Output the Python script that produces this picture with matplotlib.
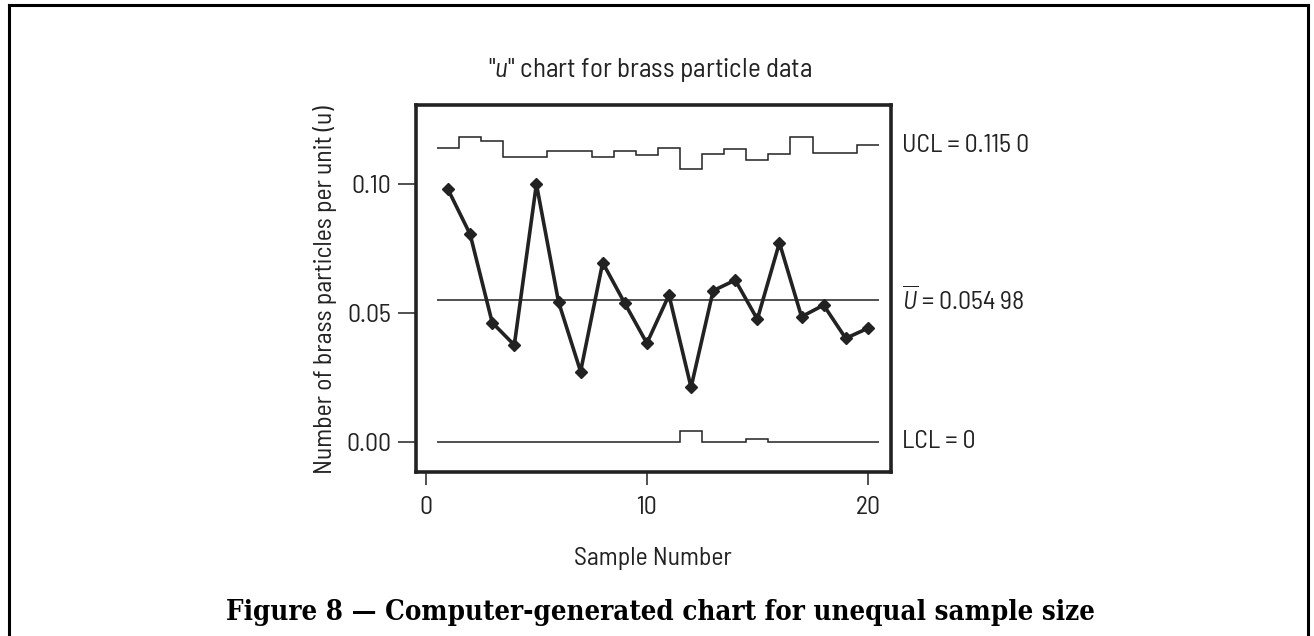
"""u chart for brass particle data (unequal sample sizes)."""

import matplotlib
matplotlib.use("Agg")
import matplotlib.pyplot as plt
import numpy as np
from matplotlib.lines import Line2D

# --- data ---
samples = np.arange(1, 21)
u_values = [0.0979, 0.0805, 0.0462, 0.0375, 0.1000, 0.0543, 0.0272, 0.0695, 0.0537, 0.0382,
            0.0569, 0.0211, 0.0586, 0.0627, 0.0475, 0.0772, 0.0485, 0.0530, 0.0401, 0.0440]
ucl_values = [0.1139, 0.1181, 0.1168, 0.1104, 0.1106, 0.1129, 0.1127, 0.1107, 0.1127, 0.1111,
              0.1140, 0.1059, 0.1118, 0.1135, 0.1092, 0.1115, 0.1184, 0.1121, 0.1121, 0.1151]
lcl_values = [0, 0, 0, 0, 0, 0, 0, 0, 0, 0,
              0, 0.0041, 0, 0, 0.0010, 0, 0, 0, 0, 0]
u_bar = 0.05498
x_ticks = [0, 10, 20]
y_ticks = [0.00, 0.05, 0.10]
y_tick_labels = ["0.00", "0.05", "0.10"]
limit_labels = ["UCL = 0.115 0", r"$\overline{U}$ = 0.054 98", "LCL = 0"]
limit_levels = [0.1150, u_bar, 0.0]

sans = "Barlow Semi Condensed"
plt.rcParams["font.family"] = [sans, "DejaVu Sans"]
plt.rcParams["font.stretch"] = "semi-condensed"
plt.rcParams["mathtext.fontset"] = "custom"
plt.rcParams["mathtext.rm"] = sans
plt.rcParams["mathtext.it"] = sans + ":italic"

W, H = 1314, 636
fig = plt.figure(figsize=(W / 100, H / 100), dpi=100)


def px(x, y):
    return x / W, 1 - y / H


left, top, right, bottom = 416, 105, 891, 472
ax = fig.add_axes([left / W, 1 - bottom / H, (right - left) / W, (bottom - top) / H])

# step lines for the control limits
edges = np.append(samples - 0.5, samples[-1] + 0.5)
ax.stairs(ucl_values, edges, color="#222222", lw=1.1, baseline=None)
ax.stairs(lcl_values, edges, color="#222222", lw=1.1, baseline=None)
ax.hlines(u_bar, edges[0], edges[-1], color="#222222", lw=1.1)

ax.plot(samples, u_values, color="#222222", lw=2.6, marker="D", ms=6.5,
        markerfacecolor="#222222", markeredgecolor="#222222", solid_joinstyle="miter")

ax.set_xlim(-0.45, 21.05)
ax.set_ylim(-0.0118, 0.1307)
ax.set_xticks(x_ticks)
ax.set_yticks(y_ticks)
ax.set_yticklabels(y_tick_labels)
ax.tick_params(axis="y", length=13, width=1.1, pad=5, labelsize=18.5, colors="#222222")
ax.tick_params(axis="x", length=9.5, width=1.1, pad=8, labelsize=18.5, colors="#222222")
for sp in ax.spines.values():
    sp.set_linewidth(2.6)
    sp.set_color("#222222")

for lab, lev in zip(limit_labels, limit_levels):
    ax.text(1.023, lev, lab, transform=ax.get_yaxis_transform(), ha="left", va="center",
            fontsize=18.5, color="#222222")

fig.text(*px(650, 70), '"$u$" chart for brass particle data', ha="center", va="center",
         fontsize=19.5, color="#222222")
fig.text(*px(653, 558), "Sample Number", ha="center", va="center", fontsize=18.5, color="#222222")
fig.text(*px(325, 290), "Number of brass particles per unit (u)", ha="center", va="center",
         rotation=90, fontsize=18.5, color="#222222")
fig.text(*px(660, 612), "Figure 8 \u2014 Computer-generated chart for unequal sample size",
         ha="center", va="center", fontsize=19.8, fontweight="bold", family="DejaVu Serif",
         fontstretch="condensed", color="black")

# outer frame, open at the bottom
frame_kw = dict(transform=fig.transFigure, color="black", lw=2.2)
fig.add_artist(Line2D([9 / W, 9 / W], [0, 1 - 5 / H], **frame_kw))
fig.add_artist(Line2D([9 / W, 1308 / W], [1 - 5 / H, 1 - 5 / H], **frame_kw))
fig.add_artist(Line2D([1308 / W, 1308 / W], [0, 1 - 5 / H], **frame_kw))

fig.savefig("out.png", dpi=100)
